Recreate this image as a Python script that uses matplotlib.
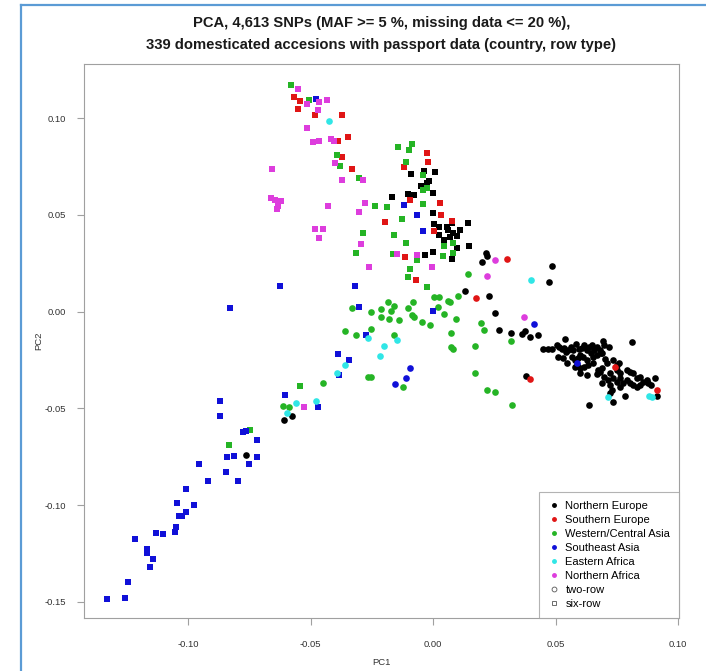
import numpy as np
import matplotlib
matplotlib.use("Agg")
import matplotlib.pyplot as plt
from matplotlib.lines import Line2D

plt.rcParams['font.family'] = ['Liberation Sans', 'DejaVu Sans']

# PC1 / PC2 scores, grouped by region and row type (six-row = square, two-row = circle)
ne_six = [[-0.0090, 0.0711], [-0.0038, 0.0726], [0.0009, 0.0721], [-0.0015, 0.0676],
          [-0.0026, 0.0663], [-0.0049, 0.0650], [-0.0001, 0.0611], [-0.0169, 0.0590],
          [-0.0101, 0.0607], [-0.0078, 0.0601], [0.0001, 0.0511], [0.0004, 0.0452],
          [0.0026, 0.0439], [0.0056, 0.0439], [0.0076, 0.0459], [0.0142, 0.0456],
          [0.0026, 0.0396], [0.0062, 0.0421], [0.0083, 0.0404], [0.0097, 0.0392],
          [0.0069, 0.0387], [0.0001, 0.0309], [-0.0033, 0.0292], [0.0097, 0.0327],
          [0.0078, 0.0273], [0.0147, 0.0339], [0.0045, 0.0370], [0.0110, 0.0421]]
ne_two = [[0.0216, 0.0304], [0.0222, 0.0289], [0.0200, 0.0255], [0.0131, 0.0106],
          [0.0230, 0.0082], [0.0254, -0.0009], [0.0268, -0.0095], [0.0484, 0.0237],
          [0.0472, 0.0154], [0.0318, -0.0112], [0.0364, -0.0116], [0.0375, -0.0102],
          [0.0397, -0.0131], [0.0428, -0.0119], [0.0378, -0.0334], [0.0636, -0.0482],
          [0.0733, -0.0467], [0.0781, -0.0434], [0.0914, -0.0434], [0.0811, -0.0159],
          [-0.0608, -0.0561], [-0.0575, -0.0539], [-0.0762, -0.0741],
          [0.0450, -0.0195], [0.0470, -0.0195], [0.0484, -0.0195], [0.0505, -0.0173],
          [0.0514, -0.0181], [0.0525, -0.0195], [0.0539, -0.0143], [0.0534, -0.0190],
          [0.0543, -0.0207], [0.0552, -0.0198], [0.0562, -0.0181], [0.0572, -0.0198],
          [0.0583, -0.0169], [0.0594, -0.0193], [0.0607, -0.0190], [0.0616, -0.0173],
          [0.0627, -0.0198], [0.0638, -0.0184], [0.0649, -0.0173], [0.0657, -0.0198],
          [0.0668, -0.0181], [0.0679, -0.0198], [0.0684, -0.0215], [0.0694, -0.0150],
          [0.0698, -0.0173], [0.0719, -0.0181], [0.0511, -0.0233], [0.0532, -0.0241],
          [0.0548, -0.0267], [0.0566, -0.0233], [0.0577, -0.0250], [0.0593, -0.0241],
          [0.0600, -0.0224], [0.0613, -0.0233], [0.0627, -0.0250], [0.0643, -0.0215],
          [0.0654, -0.0233], [0.0668, -0.0224], [0.0688, -0.0212], [0.0702, -0.0246],
          [0.0577, -0.0285], [0.0586, -0.0276], [0.0600, -0.0293], [0.0616, -0.0285],
          [0.0634, -0.0276], [0.0654, -0.0267], [0.0674, -0.0302], [0.0688, -0.0293],
          [0.0709, -0.0267], [0.0736, -0.0250], [0.0750, -0.0276], [0.0760, -0.0267],
          [0.0600, -0.0319], [0.0627, -0.0327], [0.0668, -0.0322], [0.0681, -0.0310],
          [0.0698, -0.0336], [0.0722, -0.0319], [0.0750, -0.0302], [0.0763, -0.0319],
          [0.0790, -0.0302], [0.0804, -0.0310], [0.0817, -0.0316], [0.0688, -0.0370],
          [0.0715, -0.0353], [0.0722, -0.0379], [0.0736, -0.0345], [0.0752, -0.0362],
          [0.0763, -0.0345], [0.0774, -0.0367], [0.0790, -0.0353], [0.0804, -0.0370],
          [0.0817, -0.0379], [0.0831, -0.0345], [0.0845, -0.0336], [0.0858, -0.0362],
          [0.0872, -0.0353], [0.0878, -0.0370], [0.0888, -0.0379], [0.0906, -0.0345],
          [0.0845, -0.0379], [0.0831, -0.0388], [0.0763, -0.0388], [0.0722, -0.0422],
          [0.0729, -0.0405]]

se_six = [[-0.0567, 0.1110], [-0.0543, 0.1088], [-0.0550, 0.1048], [-0.0480, 0.1014],
          [-0.0370, 0.1015], [-0.0386, 0.0883], [-0.0346, 0.0903], [-0.0373, 0.0800],
          [-0.0329, 0.0735], [-0.0026, 0.0818], [-0.0019, 0.0771], [-0.0117, 0.0748],
          [-0.0094, 0.0576], [0.0029, 0.0559], [0.0031, 0.0497], [-0.0197, 0.0463],
          [0.0079, 0.0468], [0.0004, 0.0415], [-0.0115, 0.0284], [-0.0071, 0.0163]]
se_two = [[0.0175, 0.0070], [0.0301, 0.0270], [0.0396, -0.0350], [0.0743, -0.0288],
          [0.0915, -0.0406]]

wca_six = [[-0.0581, 0.1170], [-0.0505, 0.1093], [-0.0390, 0.0810], [-0.0379, 0.0752],
           [-0.0302, 0.0690], [-0.0144, 0.0852], [-0.0087, 0.0866], [-0.0097, 0.0835],
           [-0.0110, 0.0773], [-0.0042, 0.0706], [-0.0040, 0.0628], [-0.0026, 0.0637],
           [-0.0237, 0.0545], [-0.0189, 0.0542], [-0.0042, 0.0554], [-0.0126, 0.0477],
           [-0.0158, 0.0396], [-0.0110, 0.0356], [-0.0284, 0.0404], [-0.0314, 0.0301],
           [-0.0162, 0.0298], [0.0045, 0.0339], [0.0080, 0.0356], [0.0083, 0.0301],
           [-0.0065, 0.0265], [0.0040, 0.0289], [-0.0094, 0.0220], [-0.0103, 0.0177],
           [-0.0026, 0.0129], [-0.0543, -0.0384], [-0.0745, -0.0613], [-0.0831, -0.0691]]
wca_two = [[0.0142, 0.0193], [0.0003, 0.0074], [0.0024, 0.0077], [0.0061, 0.0056],
           [0.0069, 0.0051], [0.0103, 0.0082], [-0.0182, 0.0048], [-0.0160, 0.0029],
           [-0.0173, 0.0005], [-0.0212, 0.0012], [-0.0213, -0.0029], [-0.0180, -0.0037],
           [-0.0082, 0.0051], [-0.0101, 0.0017], [-0.0084, -0.0018], [-0.0078, -0.0029],
           [-0.0137, -0.0043], [0.0022, 0.0022], [0.0045, -0.0014], [-0.0046, -0.0052],
           [-0.0012, -0.0071], [0.0095, -0.0040], [-0.0329, 0.0017], [-0.0254, -0.0002],
           [-0.0358, -0.0099], [-0.0314, -0.0121], [-0.0254, -0.0091], [-0.0160, -0.0119],
           [0.0075, -0.0109], [0.0073, -0.0181], [0.0083, -0.0192], [0.0196, -0.0060],
           [0.0209, -0.0095], [0.0170, -0.0178], [-0.0265, -0.0336], [-0.0255, -0.0336],
           [-0.0448, -0.0367], [-0.0121, -0.0388], [0.0171, -0.0319], [0.0222, -0.0405],
           [0.0254, -0.0414], [0.0317, -0.0152], [0.0322, -0.0482], [-0.0613, -0.0486],
           [-0.0589, -0.0491]]

sea_six = [[-0.0477, 0.1100], [-0.0120, 0.0551], [-0.0065, 0.0500], [-0.0041, 0.0415],
           [-0.0624, 0.0134], [-0.0317, 0.0131], [-0.0301, 0.0025], [-0.0001, 0.0005],
           [-0.0272, -0.0119], [-0.0389, -0.0221], [-0.0343, -0.0252], [-0.0385, -0.0329],
           [-0.0605, -0.0429], [-0.0470, -0.0493], [-0.0829, 0.0017], [-0.0869, -0.0460],
           [-0.0870, -0.0538], [-0.0774, -0.0623], [-0.0763, -0.0615], [-0.0717, -0.0663],
           [-0.0842, -0.0751], [-0.0812, -0.0744], [-0.0717, -0.0749], [-0.0752, -0.0789],
           [-0.0956, -0.0789], [-0.0846, -0.0828], [-0.0796, -0.0873], [-0.0917, -0.0877],
           [-0.1009, -0.0916], [-0.1044, -0.0989], [-0.0976, -0.0997], [-0.1036, -0.1056],
           [-0.1024, -0.1057], [-0.1007, -0.1037], [-0.1047, -0.1111], [-0.1053, -0.1137],
           [-0.1129, -0.1145], [-0.1100, -0.1149], [-0.1217, -0.1173], [-0.1168, -0.1225],
           [-0.1166, -0.1245], [-0.1144, -0.1276], [-0.1156, -0.1321], [-0.1246, -0.1397],
           [-0.1331, -0.1483], [-0.1255, -0.1481]]
sea_two = [[-0.0095, -0.0293], [-0.0110, -0.0345], [-0.0155, -0.0372], [0.0412, -0.0062],
           [0.0586, -0.0267]]

ea_two = [[-0.0423, 0.0983], [0.0399, 0.0163], [-0.0266, -0.0135], [-0.0147, -0.0147],
          [-0.0201, -0.0178], [-0.0217, -0.0229], [-0.0359, -0.0274], [-0.0393, -0.0316],
          [-0.0558, -0.0472], [-0.0476, -0.0460], [-0.0596, -0.0525], [0.0714, -0.0441],
          [0.0892, -0.0441], [0.0882, -0.0434]]

na_six = [[-0.0551, 0.1150], [-0.0464, 0.1083], [-0.0434, 0.1091], [-0.0513, 0.1071],
          [-0.0470, 0.1041], [-0.0513, 0.0950], [-0.0488, 0.0876], [-0.0464, 0.0880],
          [-0.0417, 0.0890], [-0.0404, 0.0883], [-0.0400, 0.0766], [-0.0373, 0.0680],
          [-0.0284, 0.0678], [-0.0657, 0.0738], [-0.0662, 0.0588], [-0.0646, 0.0576],
          [-0.0621, 0.0571], [-0.0632, 0.0547], [-0.0635, 0.0528], [-0.0427, 0.0545],
          [-0.0276, 0.0559], [-0.0303, 0.0516], [-0.0480, 0.0425], [-0.0450, 0.0427],
          [-0.0466, 0.0382], [-0.0295, 0.0348], [-0.0261, 0.0232], [-0.0148, 0.0298],
          [-0.0067, 0.0292], [-0.0003, 0.0230], [-0.0525, -0.0494]]
na_two = [[0.0253, 0.0267], [0.0219, 0.0185], [0.0371, -0.0026]]

regions = ["Northern Europe", "Southern Europe", "Western/Central Asia",
           "Southeast Asia", "Eastern Africa", "Northern Africa"]
colors = ["black", "#e01515", "#25b425", "#1010d8", "#30e6e6", "#dd3ddd"]
groups = [(ne_six, ne_two), (se_six, se_two), (wca_six, wca_two),
          (sea_six, sea_two), ([], ea_two), (na_six, na_two)]

fig = plt.figure(figsize=(7.06, 6.71), dpi=100)
ax = fig.add_axes([0.119, 0.079, 0.843, 0.8256])

for (six, two), col in zip(groups, colors):
    if six:
        a = np.array(six)
        ax.scatter(a[:, 0], a[:, 1], marker='s', s=18, c=col, linewidths=0)
    if two:
        a = np.array(two)
        ax.scatter(a[:, 0], a[:, 1], marker='o', s=23, c=col, linewidths=0)

ax.set_xlim(-0.1424, 0.1004)
ax.set_ylim(-0.1583, 0.1279)
ax.set_xticks([-0.10, -0.05, 0.00, 0.05, 0.10])
ax.set_yticks([-0.15, -0.10, -0.05, 0.00, 0.05, 0.10])
ax.xaxis.set_major_formatter(matplotlib.ticker.FormatStrFormatter('%.2f'))
ax.yaxis.set_major_formatter(matplotlib.ticker.FormatStrFormatter('%.2f'))
for s in ax.spines.values():
    s.set_color('#a0a0a0')
ax.tick_params(colors='#a0a0a0', labelcolor='#333333', labelsize=6.8, length=5)
ax.tick_params(axis='x', pad=11)
ax.tick_params(axis='y', pad=8)
ax.set_xlabel('PC1', fontsize=6.8, color='#333333', labelpad=6)
ax.set_ylabel('PC2', fontsize=6.8, color='#333333', labelpad=1)

handles = [Line2D([], [], ls='', marker='o', ms=2.5, color=c) for c in colors]
handles += [Line2D([], [], ls='', marker='o', ms=3.5, mfc='none', mec='#555555', mew=0.6),
            Line2D([], [], ls='', marker='s', ms=3.5, mfc='none', mec='#555555', mew=0.6)]
leg = ax.legend(handles, regions + ['two-row', 'six-row'], loc='lower right',
                fontsize=8, frameon=True, fancybox=False, borderaxespad=0,
                handletextpad=0.4, labelspacing=0.36, borderpad=0.8, handlelength=1.2)
leg.get_frame().set_edgecolor('#a0a0a0')
leg.get_frame().set_linewidth(0.8)

fig.text(0.540, 0.966, 'PCA, 4,613 SNPs (MAF >= 5 %, missing data <= 20 %),',
         ha='center', va='center', fontsize=10.6, fontweight='bold', color='#1a1a1a')
fig.text(0.540, 0.933, '339 domesticated accesions with passport data (country, row type)',
         ha='center', va='center', fontsize=10.6, fontweight='bold', color='#1a1a1a')

# screenshot frame on the left and top edges
fig.add_artist(Line2D([0.030, 0.030], [0.0, 0.993], color='#5b9bd5', lw=1.6))
fig.add_artist(Line2D([0.030, 1.0], [0.993, 0.993], color='#5b9bd5', lw=1.6))

fig.savefig('out.png', dpi=100)
